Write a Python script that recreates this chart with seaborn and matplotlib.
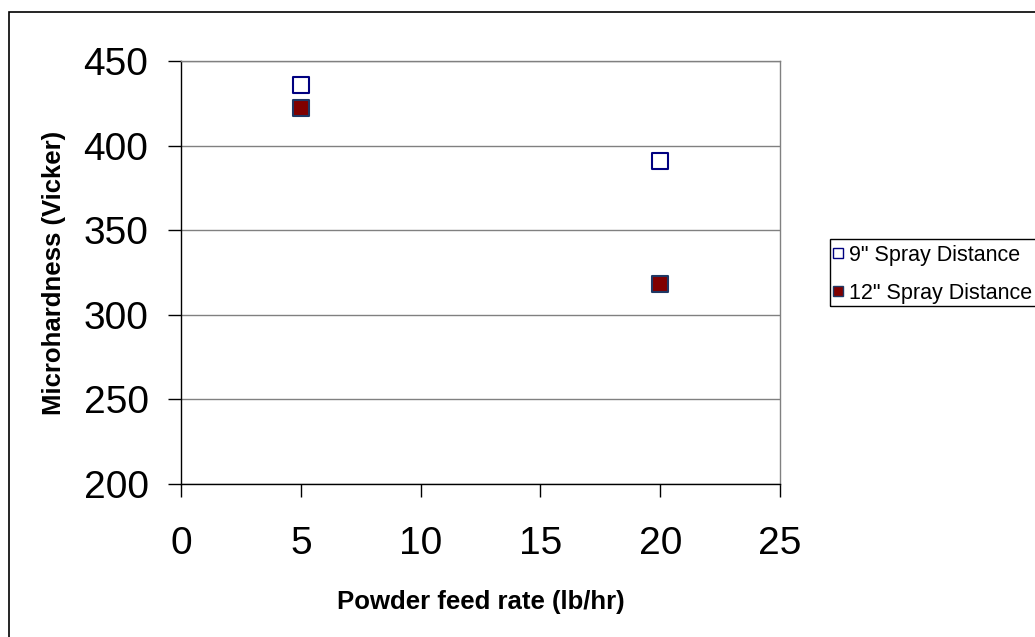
import matplotlib
matplotlib.use("Agg")
import matplotlib.pyplot as plt
from matplotlib.lines import Line2D
from matplotlib.patches import Rectangle
import seaborn as sns
import pandas as pd

# Microhardness vs. powder feed rate for two spray distances
feed_rate = [5, 20]
hardness_9in = [436, 391]
hardness_12in = [422, 318]
series_labels = ['9" Spray Distance', '12" Spray Distance']
x_ticks = [0, 5, 10, 15, 20, 25]
y_ticks = [200, 250, 300, 350, 400, 450]

df = pd.DataFrame({
    "feed": feed_rate * 2,
    "hardness": hardness_9in + hardness_12in,
    "series": [series_labels[0]] * 2 + [series_labels[1]] * 2,
})

sns.set_theme(style="white")
plt.rcParams["font.family"] = ["Liberation Sans", "DejaVu Sans"]
plt.rcParams.update({
    "text.color": "black",
    "axes.labelcolor": "black",
    "xtick.color": "black",
    "ytick.color": "black",
})

W, H = 1035, 637
fig = plt.figure(figsize=(W / 100, H / 100), dpi=100)
fig.patch.set_facecolor("white")

# plot area in pixels: x 181..780, y 61..484
ax = fig.add_axes([181 / W, 1 - 484 / H, 599 / W, 423 / H])
ax.set_facecolor("white")

styles = {
    series_labels[0]: dict(color="white", edgecolor="#000080"),
    series_labels[1]: dict(color="#800000", edgecolor="#1F3864"),
}
for name, sub in df.groupby("series", sort=False):
    sns.scatterplot(data=sub, x="feed", y="hardness", marker="s", s=130,
                    linewidth=1.5, ax=ax, legend=False, zorder=5,
                    **styles[name])

ax.set_xlim(0, 25)
ax.set_ylim(200, 450)
ax.set_xticks(x_ticks)
ax.set_yticks(y_ticks)
ax.set_xticklabels([str(v) for v in x_ticks])
ax.set_yticklabels([str(v) for v in y_ticks])

ax.yaxis.grid(True, color="#808080", linewidth=1.0)
ax.xaxis.grid(False)
ax.set_axisbelow(True)

for side in ["left", "bottom"]:
    ax.spines[side].set_color("black")
    ax.spines[side].set_linewidth(1.0)
for side in ["top", "right"]:
    ax.spines[side].set_color("#808080")
    ax.spines[side].set_linewidth(1.0)

ax.tick_params(axis="x", direction="out", length=9.4, width=1, color="black",
               pad=21, labelsize=28, bottom=True, labelcolor="black")
ax.tick_params(axis="y", direction="out", length=9.4, width=1, color="black",
               pad=14, labelsize=28, left=True, labelcolor="black")

ax.set_xlabel("Powder feed rate (lb/hr)", fontsize=18.5, fontweight="bold",
              va="center", color="black")
ax.set_ylabel("Microhardness (Vicker)", fontsize=18.5, fontweight="bold",
              va="center", color="black")
ax.xaxis.set_label_coords(0.5, (484 - 602) / 423)
ax.yaxis.set_label_coords((54 - 181) / 599, 0.5)

# legend entries, with a separate box drawn around them
handles = [
    Line2D([], [], linestyle="none", marker="s", markersize=6.5,
           markerfacecolor="white", markeredgecolor="#000080", markeredgewidth=1.0),
    Line2D([], [], linestyle="none", marker="s", markersize=6.5,
           markerfacecolor="#800000", markeredgecolor="#1F3864", markeredgewidth=1.0),
]
fig.legend(handles, series_labels, loc="upper left",
           bbox_to_anchor=(833.5 / W, 1 - 245 / H), borderaxespad=0,
           fontsize=15.5, frameon=False, handlelength=0.4,
           handletextpad=0.3, borderpad=0, labelspacing=0.78,
           labelcolor="black")
fig.patches.append(Rectangle((830 / W, 1 - 306 / H), 215 / W, 67 / H,
                             transform=fig.transFigure, fill=False,
                             edgecolor="black", linewidth=1.0))

# outer chart border
fig.patches.append(Rectangle((9 / W, -5 / H), 1.2, (H - 12 + 5) / H,
                             transform=fig.transFigure, fill=False,
                             edgecolor="black", linewidth=1.2))

fig.savefig("out.png", dpi=100)
